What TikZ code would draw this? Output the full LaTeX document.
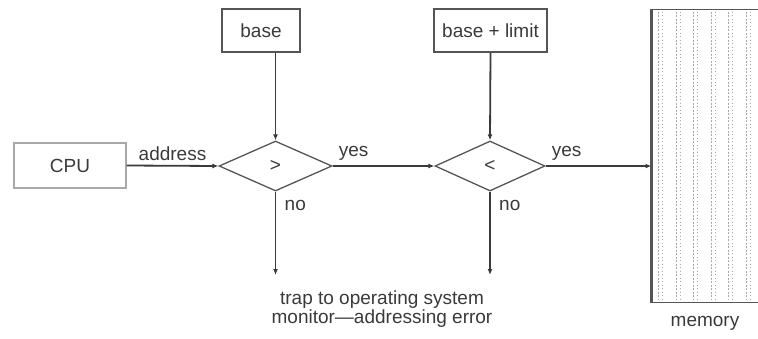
\documentclass[tikz,border=0pt]{standalone}
\usepackage{fontspec}
\setmainfont{Liberation Sans}
\usepackage{xcolor}
\usetikzlibrary{arrows.meta, positioning, calc, shapes.geometric}
\definecolor{linegray}{HTML}{3A3A3A}
\definecolor{boxgray}{HTML}{555555}
\definecolor{memgray}{HTML}{A8A8A8}

\tikzset{
  lbl/.style={font=\fontsize{19}{19}\selectfont, text=linegray},
  regbox/.style={draw=boxgray, line width=2pt, inner sep=0pt, lbl},
  test/.style={diamond, draw=boxgray, line width=1.3pt, inner sep=0pt, lbl},
  flow/.style={-{Latex[length=6pt,width=5pt]}, line width=1.8pt, linegray},
}

\begin{document}
\begin{tikzpicture}[x=1pt, y=-1pt]
  \useasboundingbox (0,0) rectangle (758,338);
  % registers and cpu
  \node[regbox, draw=memgray, line width=1.3pt, minimum width=112pt, minimum height=45pt] (cpu) at (70,165.5) {CPU};
  \node[regbox, minimum width=78pt, minimum height=43pt] (base) at (261,30.5) {base};
  \node[regbox, minimum width=113pt, minimum height=43pt] (limit) at (490.5,30.5) {base + limit};
  % comparisons
  \node[test, minimum width=113pt, minimum height=50pt] (ge) at (275.5,166) {>};
  \node[test, minimum width=110pt, minimum height=50pt] (lt) at (490,166) {<};
  % memory
  \node[draw=boxgray, line width=1pt, minimum width=106pt, minimum height=293pt, inner sep=0pt] (mem) at (705,155.5) {};
  \foreach \i in {0,...,5} {
    \draw[memgray, line width=0.8pt, dash pattern=on 2pt off 1.5pt]
      ($(mem.north west)+(7+17.5*\i,3)$) -- ($(mem.south west)+(7+17.5*\i,-3)$);
    \draw[memgray, line width=0.8pt, dash pattern=on 1pt off 2.5pt]
      ($(mem.north west)+(11+17.5*\i,3)$) -- ($(mem.south west)+(11+17.5*\i,-3)$);
  }
  \draw[boxgray, line width=2.5pt] (mem.north west) -- (mem.south west);
  \node[lbl, below=10pt of mem.south] (memtxt) {memory};
  % ends of the no branches
  \coordinate (trapa) at (275.5,275);
  \coordinate (trapb) at (490,275);
  \node[lbl, align=center] (trap) at (382,309) {trap to operating system\\monitor---addressing error};
  % connectors
  \draw[flow] (cpu.east) -- node[lbl, above=1pt] {address} (ge.west);
  \draw[flow] (base.south -| ge.north) -- (ge.north);
  \draw[flow] (limit.south) -- (lt.north);
  \draw[flow] (ge.east) -- node[lbl, above right=1pt and 2pt, pos=0] {yes} (lt.west);
  \draw[flow] (lt.east) -- node[lbl, above right=1pt and 2pt, pos=0] {yes} (lt.east -| mem.west);
  \draw[flow] (ge.south) -- node[lbl, below right=4pt and 5pt, pos=0] {no} (trapa);
  \draw[flow] (lt.south) -- node[lbl, below right=4pt and 5pt, pos=0] {no} (trapb);
\end{tikzpicture}
\end{document}
